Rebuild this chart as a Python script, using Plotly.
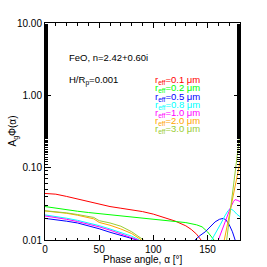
import plotly.graph_objects as go

# ---- data ----
radii = ["0.1", "0.2", "0.5", "0.8", "1.0", "2.0", "3.0"]
colors = ["#ff0000", "#00ff00", "#0000ff", "#00ffff", "#ff00ff", "#ffa500", "#9acd32"]

alpha_01 = [0, 10, 20, 30, 40, 50, 60, 70, 80, 90, 100, 110, 120, 130, 135, 140, 144]
phi_01 = [0.044, 0.043, 0.040, 0.037, 0.034, 0.031, 0.029, 0.0275, 0.0262, 0.0247, 0.0228, 0.0206, 0.0183, 0.0157, 0.014, 0.012, 0.010]

alpha_02 = [0, 10, 20, 30, 40, 50, 60, 70, 80, 90, 100, 110, 120, 130, 140, 145, 150, 155, 156]
phi_02 = [0.029, 0.0275, 0.026, 0.025, 0.024, 0.0232, 0.0222, 0.0213, 0.0206, 0.020, 0.0195, 0.019, 0.0182, 0.0174, 0.0162, 0.0152, 0.013, 0.0107, 0.010]

alpha_05 = [0, 10, 20, 30, 40, 50, 60, 70, 80, 85, 110,
            138.5, 143, 148, 153, 157, 161, 164.5, 167, 170, 173, 175.5]
phi_05 = [0.0199, 0.0192, 0.0182, 0.0172, 0.0158, 0.0143, 0.0128, 0.0115, 0.0105, 0.010, None,
          0.010, 0.0115, 0.013, 0.0155, 0.0178, 0.0193, 0.0199, 0.019, 0.0163, 0.013, 0.010]

alpha_08 = [0, 10, 20, 30, 40, 50, 60, 70, 80, 87, 120,
            153.8, 158, 162, 166, 169, 171, 174, 177, 180]
phi_08 = [0.0222, 0.0212, 0.0200, 0.0187, 0.0172, 0.0158, 0.0142, 0.0127, 0.0113, 0.010, None,
          0.010, 0.0128, 0.0165, 0.0215, 0.0255, 0.0272, 0.0255, 0.0228, 0.021]

alpha_10 = [0, 10, 20, 30, 40, 50, 60, 70, 80, 86, 120,
            160, 164, 167, 171, 174, 175.5, 178, 180]
phi_10 = [0.0215, 0.0205, 0.0193, 0.018, 0.0166, 0.0152, 0.0137, 0.0122, 0.0108, 0.010, None,
          0.010, 0.0145, 0.019, 0.0275, 0.034, 0.0362, 0.0352, 0.034]

alpha_20 = [0, 10, 20, 30, 40, 45, 50, 60, 70, 80, 89, 120,
            165.5, 170, 175, 180]
phi_20 = [0.0252, 0.0245, 0.0234, 0.022, 0.0203, 0.0196, 0.0175, 0.016, 0.0142, 0.0123, 0.010, None,
          0.010, 0.021, 0.05, 0.12]

alpha_30 = [0, 10, 20, 30, 40, 45, 50, 60, 70, 80, 91, 120,
            167.7, 172, 176, 180]
phi_30 = [0.0254, 0.0247, 0.0237, 0.0225, 0.0211, 0.0205, 0.0185, 0.0172, 0.0155, 0.013, 0.010, None,
          0.010, 0.033, 0.095, 0.30]

alphas = [alpha_01, alpha_02, alpha_05, alpha_08, alpha_10, alpha_20, alpha_30]
phis = [phi_01, phi_02, phi_05, phi_08, phi_10, phi_20, phi_30]

ytick_vals = [0.01, 0.1, 1, 10]
ytick_text = ["0.01", "0.10", "1.00", "10.00"]
xtick_vals = [0, 50, 100, 150]

FONT = "Liberation Sans, Arial, Helvetica, sans-serif"

fig = go.Figure()
for r, c, a, p in zip(radii, colors, alphas, phis):
    fig.add_trace(go.Scatter(x=a, y=p, mode="lines", line=dict(color=c, width=1),
                             name=r, showlegend=False, connectgaps=False, hoverinfo="skip"))

fig.update_layout(
    width=267, height=267,
    margin=dict(l=45, r=27, t=23, b=27),
    paper_bgcolor="white", plot_bgcolor="white",
    font=dict(family=FONT, size=10, color="black"),
)
fig.update_xaxes(
    range=[0, 180], tickvals=xtick_vals, ticks="inside", ticklen=5, tickcolor="black",
    showline=True, linecolor="black", linewidth=1, mirror="allticks",
    showgrid=False, zeroline=False, tickfont=dict(size=10),
    minor=dict(ticks="inside", ticklen=2.5, dtick=10, tick0=0, tickcolor="black", showgrid=False),
)
fig.update_yaxes(
    type="log", range=[-2, 1], tickvals=ytick_vals, ticktext=ytick_text,
    ticks="inside", ticklen=6, tickcolor="black",
    showline=True, linecolor="black", linewidth=1, mirror="allticks",
    showgrid=False, zeroline=False, tickfont=dict(size=10),
    minor=dict(ticks="inside", ticklen=3, tickcolor="black", showgrid=False),
)

ann = []
ann.append(dict(text="FeO, n=2.42+0.60i", x=0.113, y=0.839, xref="paper", yref="paper",
                xanchor="left", yanchor="middle", showarrow=False, font=dict(size=9.5)))
ann.append(dict(text="H/R<sub>p</sub>=0.001", x=0.113, y=0.737, xref="paper", yref="paper",
                xanchor="left", yanchor="middle", showarrow=False, font=dict(size=9.5)))
leg_y = [80, 88.3, 96.5, 104.5, 112.5, 120.5, 128.5]
for r, c, py in zip(radii, colors, leg_y):
    ann.append(dict(text=f"r<sub>eff</sub>=" + r + " \u03bcm", x=0.554, y=(240 - py) / 217,
                    xref="paper", yref="paper", xanchor="left", yanchor="middle",
                    showarrow=False, font=dict(size=9.5, color=c)))
ann.append(dict(text="Phase angle, \u03b1 [\u00b0]", x=0.5, y=-0.088, xref="paper", yref="paper",
                xanchor="center", yanchor="middle", showarrow=False, font=dict(size=10)))
ann.append(dict(text="A<sub>g</sub>\u03a6(\u03b1)", x=-0.164, y=0.5, xref="paper", yref="paper",
                xanchor="center", yanchor="middle", textangle=-90, showarrow=False, font=dict(size=10)))
fig.update_layout(annotations=ann)

fig.write_html("out.html", config={"displayModeBar": False},
               post_script="document.body.style.margin='0px';")
